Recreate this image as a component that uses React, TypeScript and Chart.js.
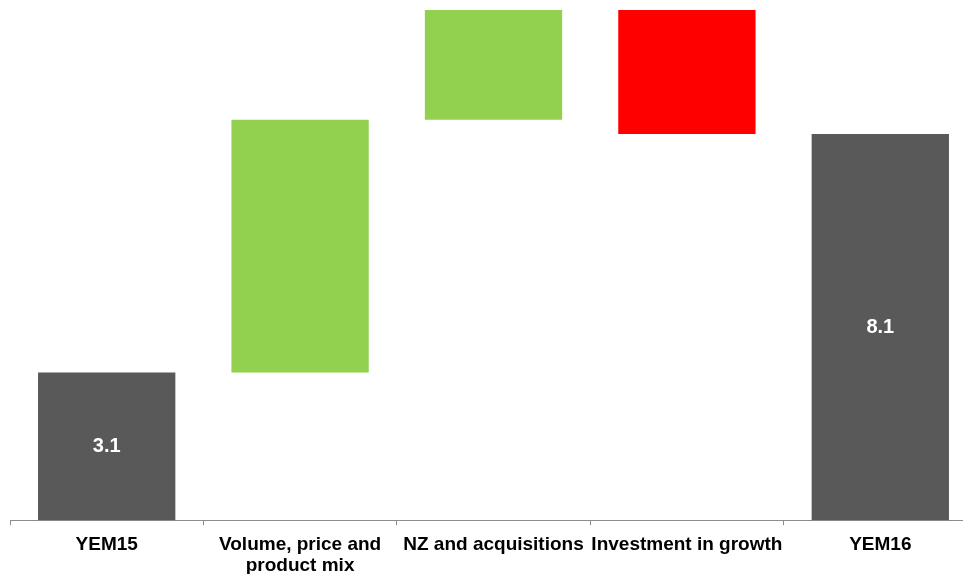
import React, { useEffect, useRef } from "react";
import { Chart, registerables } from "chart.js";

Chart.register(...registerables);

const categories: (string | string[])[] = [
  "YEM15",
  ["Volume, price and", "product mix"],
  "NZ and acquisitions",
  "Investment in growth",
  "YEM16",
];
const changes = [3.1, 5.3, 2.3, -2.6, 8.1];
const isTotal = [true, false, false, false, true];
const barColors = ["#595959", "#92D050", "#92D050", "#FF0000", "#595959"];
const labelTexts = ["3.1", "", "", "", "8.1"];

function buildRanges(): [number, number][] {
  const out: [number, number][] = [];
  let run = 0;
  changes.forEach((v, i) => {
    if (isTotal[i]) {
      out.push([0, v]);
      run = v;
    } else {
      const next = Math.round((run + v) * 100) / 100;
      out.push([Math.min(run, next), Math.max(run, next)]);
      run = next;
    }
  });
  return out;
}

const centerLabels = {
  id: "centerLabels",
  afterDatasetsDraw(chart: any) {
    const ctx = chart.ctx;
    const meta = chart.getDatasetMeta(0);
    ctx.save();
    ctx.fillStyle = "#FFFFFF";
    ctx.font = "bold 20px 'Liberation Sans', Arial, sans-serif";
    ctx.textAlign = "center";
    ctx.textBaseline = "middle";
    meta.data.forEach((bar: any, i: number) => {
      const t = labelTexts[i];
      if (!t) return;
      const y = (bar.y + bar.base) / 2;
      ctx.fillText(t, bar.x, y);
    });
    ctx.restore();
  },
};

export default function App() {
  const ref = useRef<HTMLCanvasElement | null>(null);
  useEffect(() => {
    if (!ref.current) return;
    const chart = new Chart(ref.current, {
      type: "bar",
      data: {
        labels: categories as any,
        datasets: [
          {
            data: buildRanges() as any,
            backgroundColor: barColors,
            borderWidth: 0,
            categoryPercentage: 1,
            barPercentage: 0.71,
          },
        ],
      },
      options: {
        animation: false,
        responsive: false,
        maintainAspectRatio: false,
        layout: { padding: { left: 10, right: 3, top: 10, bottom: 0 } },
        plugins: { legend: { display: false }, tooltip: { enabled: false } },
        scales: {
          x: {
            offset: true,
            grid: {
              display: true,
              drawOnChartArea: false,
              drawTicks: true,
              tickLength: 5,
              color: "#8C8C8C",
              offset: true,
            },
            border: { display: true, color: "#8C8C8C", width: 1 },
            ticks: {
              color: "#000000",
              font: { family: "'Liberation Sans', Arial, sans-serif", size: 19, weight: "bold", lineHeight: 1.1 },
              padding: 9,
              maxRotation: 0,
              autoSkip: false,
            },
          },
          y: {
            display: false,
            min: 0,
            max: 10.7,
          },
        },
      },
      plugins: [centerLabels],
    });
    return () => chart.destroy();
  }, []);
  return (
    <div style={{ position: "fixed", left: 0, top: 0, width: 963, height: 574, overflow: "hidden", background: "#fff" }}>
      <canvas ref={ref} width={980} height={585} style={{ width: 980, height: 585, display: "block" }} />
    </div>
  );
}
